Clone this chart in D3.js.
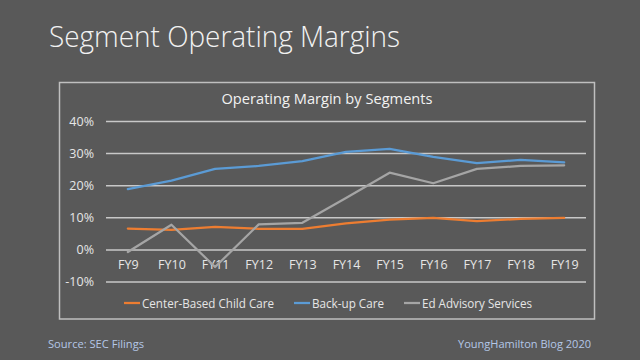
<!DOCTYPE html>
<html>
<head>
<meta charset="utf-8">
<script src="https://cdn.jsdelivr.net/npm/d3@7"></script>
<style>
  html, body { margin: 0; padding: 0; background: #595959; }
  svg { display: block; }
  text { font-family: "Open Sans", "DejaVu Sans", sans-serif; }
</style>
</head>
<body>
<svg id="chart" width="640" height="360"></svg>
<script>
const categories = ["FY9","FY10","FY11","FY12","FY13","FY14","FY15","FY16","FY17","FY18","FY19"];
const centerBased = [6.5, 6.1, 7.0, 6.4, 6.4, 8.1, 9.3, 9.8, 8.8, 9.5, 9.8];
const backupCare  = [18.8, 21.4, 25.1, 26.0, 27.5, 30.4, 31.3, 28.8, 26.9, 27.9, 27.1];
const edAdvisory  = [-0.8, 7.7, -5.5, 7.8, 8.3, 16.0, 23.9, 20.6, 25.1, 26.0, 26.2];
const yTicks = [-10, 0, 10, 20, 30, 40];
const seriesNames = ["Center-Based Child Care", "Back-up Care", "Ed Advisory Services"];

const series = [
  { name: seriesNames[0], values: centerBased, color: "#ed7d31" },
  { name: seriesNames[1], values: backupCare,  color: "#5b9bd5" },
  { name: seriesNames[2], values: edAdvisory,  color: "#a5a5a5" }
];

const svg = d3.select("#chart");

// Main title
svg.append("text")
  .attr("x", 49).attr("y", 47)
  .attr("fill", "#f2f2f2")
  .attr("font-size", 29)
  .attr("font-weight", 300)
  .attr("textLength", 351)
  .attr("lengthAdjust", "spacingAndGlyphs")
  .text("Segment Operating Margins");

// Chart frame
svg.append("rect")
  .attr("x", 59.5).attr("y", 82.5)
  .attr("width", 535).attr("height", 236.5)
  .attr("fill", "none")
  .attr("stroke", "#bfbfbf")
  .attr("stroke-width", 1.5);

// Chart title
svg.append("text")
  .attr("x", 327).attr("y", 104)
  .attr("text-anchor", "middle")
  .attr("fill", "#f2f2f2")
  .attr("font-size", 14)
  .attr("textLength", 211)
  .attr("lengthAdjust", "spacingAndGlyphs")
  .text("Operating Margin by Segments");

const x = d3.scalePoint().domain(categories).range([106, 586]).padding(0.5);
const y = d3.scaleLinear().domain([-10, 40]).range([281.5, 121]);

// Gridlines + y labels
const yAxis = d3.axisLeft(y).tickValues(yTicks).tickSize(-(586 - 106)).tickFormat(d => d + "%").tickPadding(12);
const gy = svg.append("g").attr("transform", "translate(106,0)").call(yAxis);
gy.select(".domain").remove();
gy.selectAll(".tick line").attr("stroke", "#c8c8c8").attr("stroke-width", 1.5);
gy.selectAll(".tick text")
  .attr("fill", "#e6e6e6")
  .attr("font-size", 12.5)
  .style("font-family", "'Open Sans', sans-serif");

// X labels
const xAxis = d3.axisBottom(x).tickSize(0).tickPadding(0);
const gx = svg.append("g").attr("transform", "translate(0,260)").call(xAxis);
gx.select(".domain").remove();
gx.selectAll(".tick text")
  .attr("fill", "#e6e6e6")
  .attr("font-size", 12.5)
  .style("font-family", "'Open Sans', sans-serif");

// Lines
const line = d3.line().x((d, i) => x(categories[i])).y(d => y(d));
series.forEach(s => {
  svg.append("path")
    .datum(s.values)
    .attr("d", line)
    .attr("fill", "none")
    .attr("stroke", s.color)
    .attr("stroke-width", 2.25)
    .attr("stroke-linejoin", "round")
    .attr("stroke-linecap", "round");
});

// Legend
const legendX = [124, 294, 404];
const legendW = [132, 72, 110];
series.forEach((s, i) => {
  const g = svg.append("g").attr("transform", `translate(${legendX[i]},303)`);
  g.append("line").attr("x1", 0).attr("x2", 16).attr("y1", 0).attr("y2", 0)
    .attr("stroke", s.color).attr("stroke-width", 2.25);
  g.append("text").attr("x", 18).attr("y", 4.5)
    .attr("fill", "#e6e6e6").attr("font-size", 12.5)
    .attr("textLength", legendW[i]).attr("lengthAdjust", "spacingAndGlyphs")
    .text(s.name);
});

// Footer
svg.append("text")
  .attr("x", 48).attr("y", 348)
  .attr("fill", "#b4c7e7").attr("font-size", 11.5)
  .attr("textLength", 96).attr("lengthAdjust", "spacingAndGlyphs")
  .text("Source: SEC Filings");
svg.append("text")
  .attr("x", 458).attr("y", 348)
  .attr("fill", "#b4c7e7").attr("font-size", 11.5)
  .attr("textLength", 133).attr("lengthAdjust", "spacingAndGlyphs")
  .text("YoungHamilton Blog 2020");
</script>
</body>
</html>
